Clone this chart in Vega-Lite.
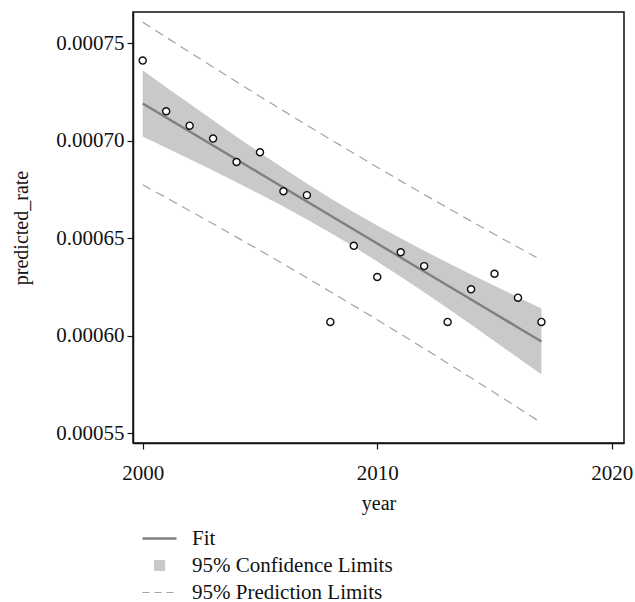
{
  "$schema": "https://vega.github.io/schema/vega-lite/v6.json",
  "width": 491,
  "height": 431,
  "autosize": {"type": "none"},
  "padding": {"left": 133, "top": 12, "right": 11, "bottom": 159},
  "background": "white",
  "config": {
    "font": "Liberation Serif",
    "view": {"stroke": "#111", "strokeWidth": 1.5},
    "axis": {
      "labelFont": "Liberation Serif",
      "titleFont": "Liberation Serif",
      "labelFontSize": 21,
      "titleFontSize": 20,
      "titleFontWeight": "normal",
      "labelColor": "#111",
      "titleColor": "#111",
      "tickColor": "#111",
      "domainColor": "#111",
      "tickSize": 6,
      "tickWidth": 1.2,
      "domainWidth": 1.5,
      "grid": false
    },
    "legend": {
      "labelFont": "Liberation Serif",
      "labelFontSize": 21,
      "labelColor": "#111",
      "labelLimit": 0
    }
  },
  "data": {
    "values": [
      {"year": 2000, "rate": 0.000741, "fit": 0.000719, "cil": 0.00070203, "ciu": 0.00073597, "pil": 0.00067729, "piu": 0.00076071},
      {"year": 2001, "rate": 0.000715, "fit": 0.00071182, "cil": 0.00069628, "ciu": 0.00072736, "pil": 0.00067069, "piu": 0.00075295},
      {"year": 2002, "rate": 0.0007076, "fit": 0.00070464, "cil": 0.00069047, "ciu": 0.00071881, "pil": 0.00066402, "piu": 0.00074526},
      {"year": 2003, "rate": 0.000701, "fit": 0.00069746, "cil": 0.00068458, "ciu": 0.00071034, "pil": 0.00065728, "piu": 0.00073764},
      {"year": 2004, "rate": 0.000689, "fit": 0.00069028, "cil": 0.00067858, "ciu": 0.00070198, "pil": 0.00065047, "piu": 0.00073009},
      {"year": 2005, "rate": 0.000694, "fit": 0.0006831, "cil": 0.00067244, "ciu": 0.00069376, "pil": 0.00064359, "piu": 0.00072261},
      {"year": 2006, "rate": 0.000674, "fit": 0.00067592, "cil": 0.00066611, "ciu": 0.00068573, "pil": 0.00063664, "piu": 0.0007152},
      {"year": 2007, "rate": 0.000672, "fit": 0.00066874, "cil": 0.00065954, "ciu": 0.00067794, "pil": 0.00062961, "piu": 0.00070787},
      {"year": 2008, "rate": 0.000607, "fit": 0.00066156, "cil": 0.00065268, "ciu": 0.00067044, "pil": 0.00062251, "piu": 0.00070061},
      {"year": 2009, "rate": 0.000646, "fit": 0.00065438, "cil": 0.0006455, "ciu": 0.00066326, "pil": 0.00061533, "piu": 0.00069343},
      {"year": 2010, "rate": 0.00063, "fit": 0.0006472, "cil": 0.000638, "ciu": 0.0006564, "pil": 0.00060807, "piu": 0.00068633},
      {"year": 2011, "rate": 0.0006427, "fit": 0.00064002, "cil": 0.00063021, "ciu": 0.00064983, "pil": 0.00060074, "piu": 0.0006793},
      {"year": 2012, "rate": 0.0006356, "fit": 0.00063284, "cil": 0.00062218, "ciu": 0.0006435, "pil": 0.00059333, "piu": 0.00067235},
      {"year": 2013, "rate": 0.000607, "fit": 0.00062566, "cil": 0.00061396, "ciu": 0.00063736, "pil": 0.00058585, "piu": 0.00066547},
      {"year": 2014, "rate": 0.0006237, "fit": 0.00061848, "cil": 0.0006056, "ciu": 0.00063136, "pil": 0.0005783, "piu": 0.00065866},
      {"year": 2015, "rate": 0.0006317, "fit": 0.0006113, "cil": 0.00059713, "ciu": 0.0006255, "pil": 0.00057068, "piu": 0.00065192},
      {"year": 2016, "rate": 0.0006194, "fit": 0.00060412, "cil": 0.00058858, "ciu": 0.00061966, "pil": 0.00056299, "piu": 0.00064525},
      {"year": 2017, "rate": 0.000607, "fit": 0.00059694, "cil": 0.00057997, "ciu": 0.00061391, "pil": 0.00055523, "piu": 0.00063865}
    ]
  },
  "encoding": {
    "x": {
      "field": "year", "type": "quantitative",
      "scale": {"domain": [1999.586, 2020.52], "nice": false, "zero": false},
      "axis": {"values": [2000, 2010, 2020], "format": "d", "title": "year", "labelPadding": 13, "titlePadding": 10}
    },
    "y": {"field": "cil", "type": "quantitative", "title": "predicted_rate",
          "scale": {"domain": [0.0005449, 0.0007659], "nice": false, "zero": false},
          "axis": {"values": [0.00055, 0.0006, 0.00065, 0.0007, 0.00075], "format": ".5f", "labelPadding": 3, "titlePadding": 24}},
    "color": {
      "datum": "Fit",
      "scale": {"domain": ["Fit", "95% Confidence Limits", "95% Prediction Limits"], "range": ["#7f7f7f", "#c8c9ca", "#a3a3a3"]},
      "legend": {
        "title": null,
        "orient": "none",
        "legendX": 16,
        "legendY": 516,
        "symbolSize": 100,
        "labelOffset": 22,
        "rowPadding": 5,
        "labelLimit": 0,
        "encode": {
          "symbols": {
            "update": {
              "shape": {"signal": "datum.label === '95% Confidence Limits' ? 'M-1,-1H1V1H-1Z' : 'stroke'"},
              "size": {"signal": "datum.label === '95% Confidence Limits' ? 100 : 1156"},
              "fill": {"signal": "datum.label === '95% Confidence Limits' ? '#c8c9ca' : 'transparent'"},
              "fillOpacity": {"value": 1},
              "stroke": {"signal": "datum.label === '95% Confidence Limits' ? '#222222' : (datum.label === 'Fit' ? '#7f7f7f' : '#a3a3a3')"},
              "strokeOpacity": {"value": 1},
              "strokeWidth": {"signal": "datum.label === 'Fit' ? 2.5 : 1.2"},
              "strokeDash": {"signal": "datum.label === '95% Prediction Limits' ? [7, 5] : null"},
              "opacity": {"value": 1}
            }
          }
        }
      }
    }
  },
  "layer": [
    {
      "mark": {"type": "area", "opacity": 1},
      "encoding": {
        "y": {"field": "cil", "type": "quantitative", "title": "predicted_rate"},
        "y2": {"field": "ciu"},
        "color": {"datum": "95% Confidence Limits"}
      }
    },
    {
      "mark": {"type": "line", "strokeWidth": 2.5},
      "encoding": {
        "y": {"field": "fit", "type": "quantitative", "title": "predicted_rate"},
        "color": {"datum": "Fit"}
      }
    },
    {
      "mark": {"type": "line", "strokeWidth": 1.2, "strokeDash": [9, 6]},
      "encoding": {
        "y": {"field": "pil", "type": "quantitative", "title": "predicted_rate"},
        "color": {"datum": "95% Prediction Limits"}
      }
    },
    {
      "mark": {"type": "line", "strokeWidth": 1.2, "strokeDash": [9, 6]},
      "encoding": {
        "y": {"field": "piu", "type": "quantitative", "title": "predicted_rate"},
        "color": {"datum": "95% Prediction Limits"}
      }
    },
    {
      "mark": {"type": "point", "shape": "circle", "filled": false, "fill": "white", "stroke": "#111", "strokeWidth": 1.4, "size": 50, "opacity": 1},
      "encoding": {
        "y": {"field": "rate", "type": "quantitative", "title": "predicted_rate"},
        "color": {"value": "#111"}
      }
    }
  ]
}
